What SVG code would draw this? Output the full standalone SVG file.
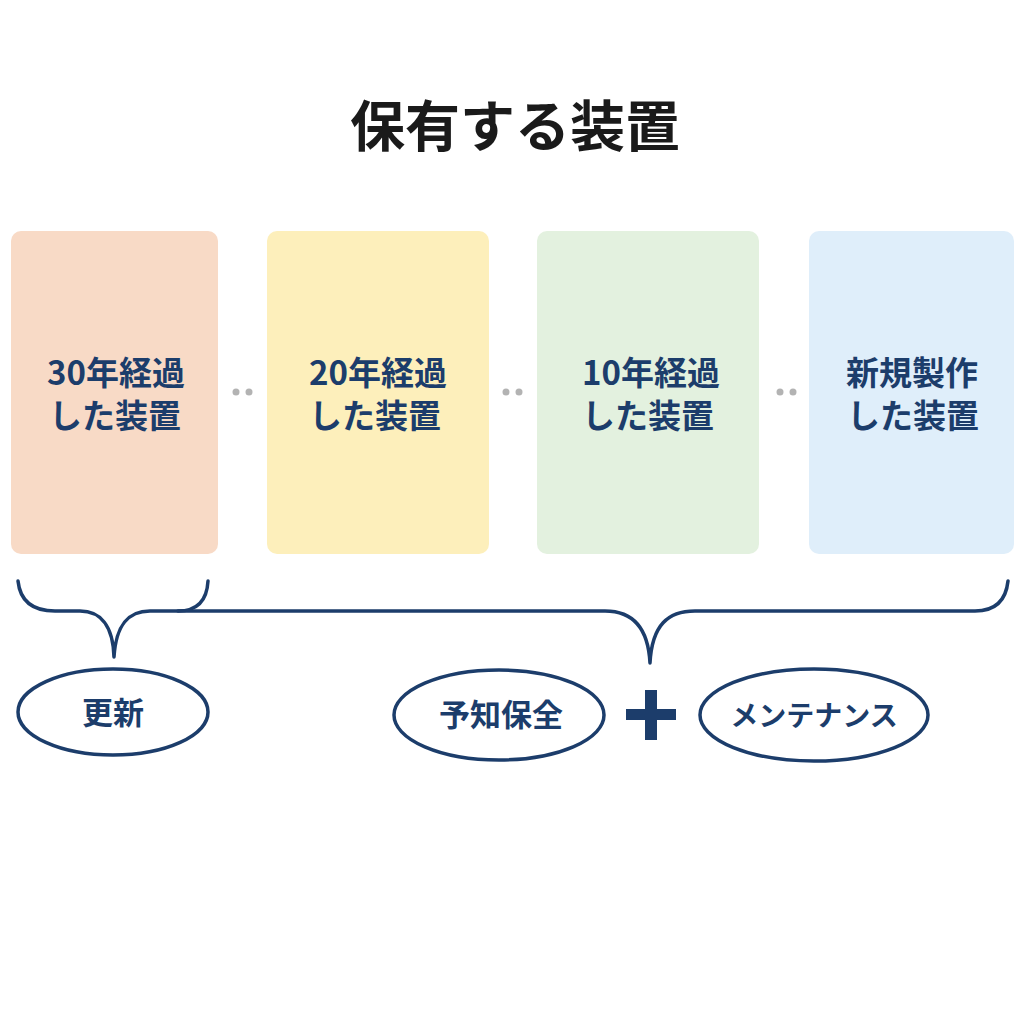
<svg xmlns="http://www.w3.org/2000/svg" width="1024" height="1024" viewBox="0 0 1024 1024">
<style>
.t{font-family:"Noto Sans CJK JP","Noto Sans",sans-serif;font-weight:700;fill:#1c3d6b;text-anchor:middle}
.title{font-family:"Noto Sans CJK JP","Noto Sans",sans-serif;font-weight:700;fill:#1a1a1a;text-anchor:middle;font-size:55px}
.box{font-size:33px}
.lbl{font-size:31px}
.br{fill:none;stroke:#1c3d6b;stroke-width:3.5;stroke-linecap:round;stroke-linejoin:round}
.el{fill:#ffffff;stroke:#1c3d6b;stroke-width:3.5}
.dot{fill:#b3b3b3}
</style>
<rect width="1024" height="1024" fill="#ffffff"/>
<text class="title" x="515" y="146">保有する装置</text>
<g id="box30">
<rect x="11" y="231" width="207" height="323" rx="10" fill="#f8dac6"/>
<text class="t box" x="116" y="385">30年経過</text>
<text class="t box" x="115" y="428">した装置</text>
</g>
<g id="box20">
<rect x="267" y="231" width="222" height="323" rx="10" fill="#fdefbb"/>
<text class="t box" x="378" y="385">20年経過</text>
<text class="t box" x="375" y="428">した装置</text>
</g>
<g id="box10">
<rect x="537" y="231" width="222" height="323" rx="10" fill="#e3f1df"/>
<text class="t box" x="651" y="385">10年経過</text>
<text class="t box" x="648" y="428">した装置</text>
</g>
<g id="boxnew">
<rect x="809" y="231" width="205" height="323" rx="10" fill="#dfeefa"/>
<text class="t box" x="912" y="385">新規製作</text>
<text class="t box" x="913" y="428">した装置</text>
</g>
<g id="dots">
<circle class="dot" cx="236" cy="392" r="3.5"/>
<circle class="dot" cx="249" cy="392" r="3.5"/>
<circle class="dot" cx="506" cy="392" r="3.5"/>
<circle class="dot" cx="519" cy="392" r="3.5"/>
<circle class="dot" cx="780" cy="392" r="3.5"/>
<circle class="dot" cx="793" cy="392" r="3.5"/>
</g>
<g id="connectors">
<path class="br" d="M18,581 C20,600 32,611 55,611 L80,611 C100,611 113,625 114,657 C116,625 128,611 150,611 L178,611 C198,611 207,600 208,581"/>
<path class="br" d="M178,611 L605,611 C630,611 648,625 650,663 C652,625 668,611 695,611 L975,611 C996,611 1006,600 1008,581"/>
<path d="M645,690 h12 v19 h19 v11 h-19 v20 h-12 v-20 h-19 v-11 h19 z" fill="#1c3d6b"/>
</g>
<g id="koshin">
<ellipse class="el" cx="113" cy="712" rx="95" ry="43"/>
<text class="t lbl" x="113" y="724">更新</text>
</g>
<g id="yochi">
<ellipse class="el" cx="499" cy="715" rx="105" ry="45"/>
<text class="t lbl" x="501" y="726">予知保全</text>
</g>
<g id="maint">
<ellipse class="el" cx="814" cy="715" rx="114" ry="46"/>
<text class="t" x="814" y="726" font-size="28">メンテナンス</text>
</g>
</svg>
